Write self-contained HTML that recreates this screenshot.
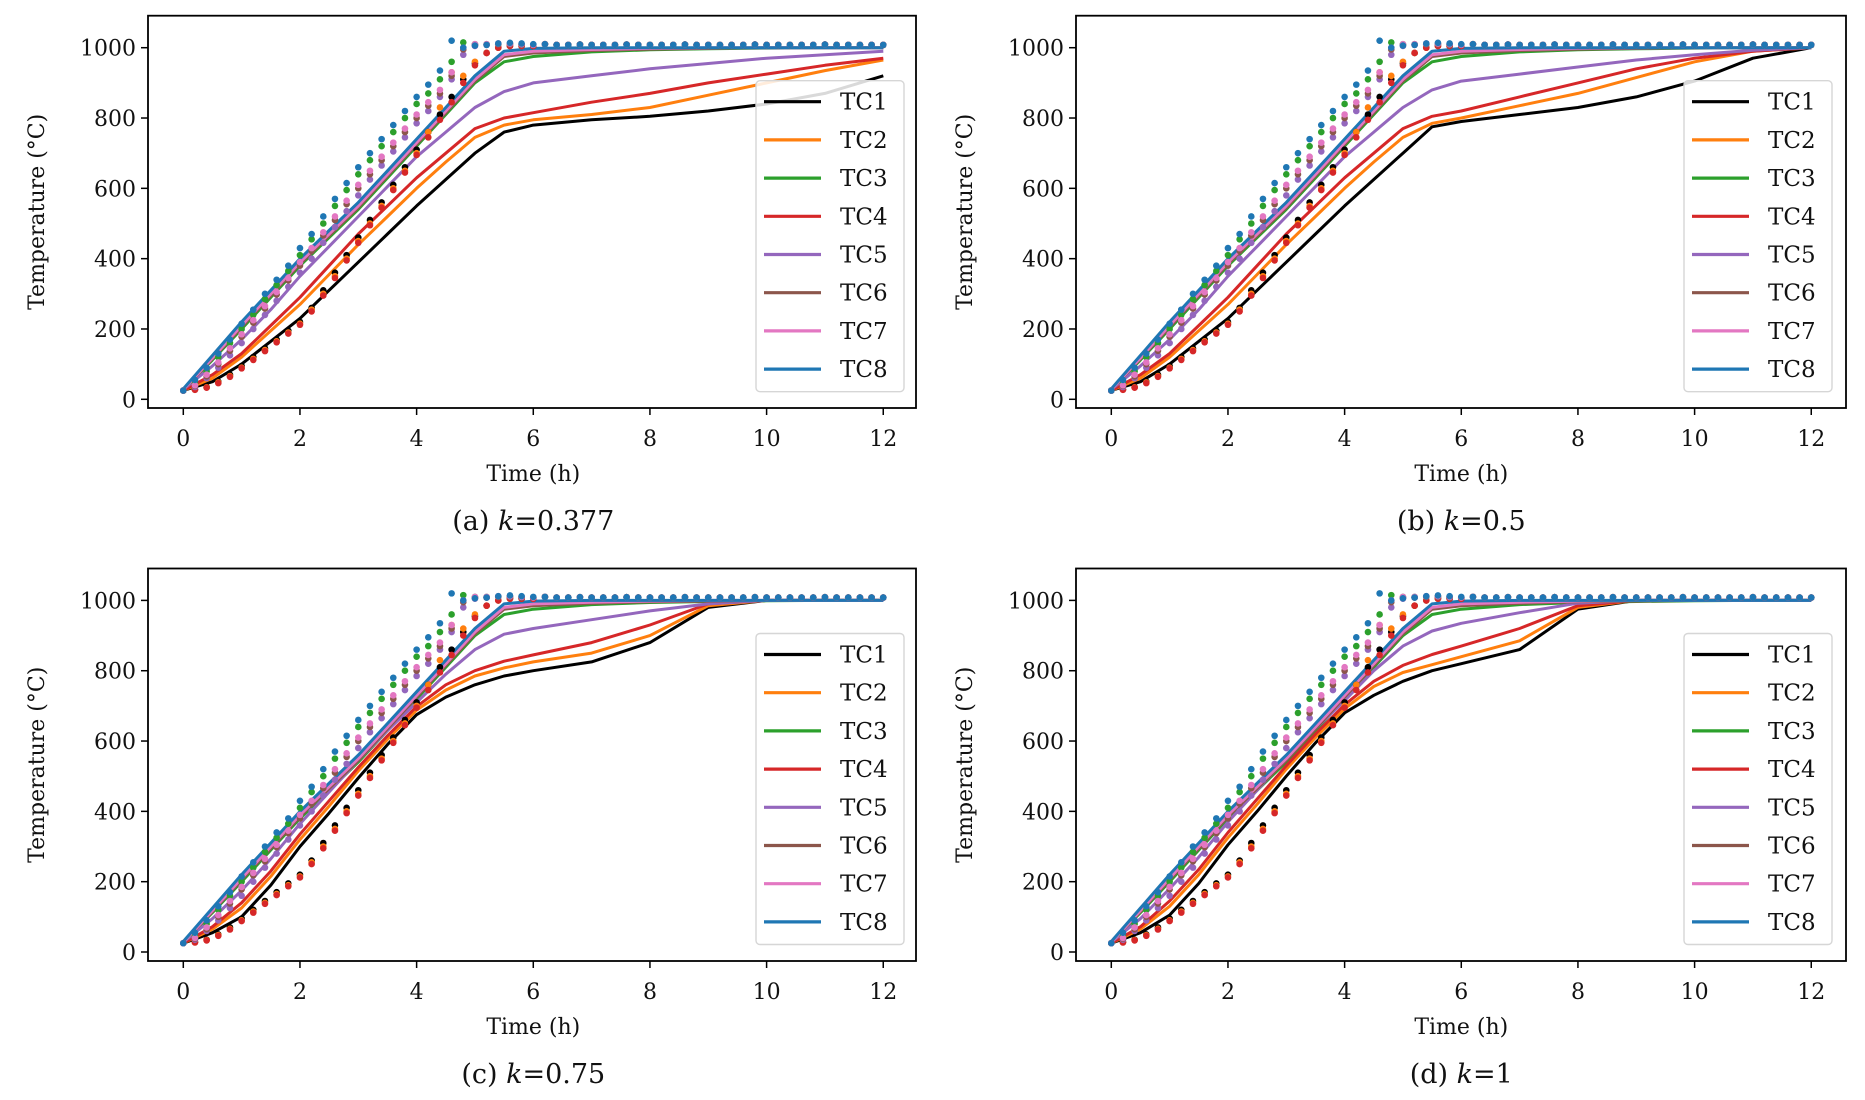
<!DOCTYPE html>
<html><head><meta charset="utf-8">
<style>
html,body{margin:0;padding:0;background:#fff;}
svg{display:block;font-family:"DejaVu Serif","Liberation Serif",serif;}
</style></head>
<body>
<svg id="fig" width="1865" height="1100" viewBox="0 0 1865 1100" xmlns="http://www.w3.org/2000/svg"></svg>
<script>
// ---- data ----
const seriesNames = ["TC1","TC2","TC3","TC4","TC5","TC6","TC7","TC8"];
const seriesColors = ["#000000","#ff7f0e","#2ca02c","#d62728","#9467bd","#8c564b","#e377c2","#1f77b4"];
const panelCaptions = ["(a) ","(b) ","(c) ","(d) "];
const panelK = ["0.377","0.5","0.75","1"];
const xTicks = [0,2,4,6,8,10,12];
const yTicks = [0,200,400,600,800,1000];

const simT = [0,0.5,1,1.5,2,2.5,3,3.5,4,4.5,5,5.5,6,7,8,9,10,11,12];
const simTC8 = [30,125,220,310,400,480,560,650,740,830,920,990,998,1000,1000,1000,1000,1000,1000];
const simTC7 = [28,118,210,300,390,470,550,640,730,820,910,980,990,995,998,1000,1000,1000,1000];
const simTC6 = [28,115,205,295,385,465,545,635,725,815,905,975,985,992,996,998,1000,1000,1000];
const simTC3 = [28,112,200,290,380,460,540,630,720,810,900,960,975,988,994,997,999,1000,1000];

const simA_TC1 = [25,50,100,165,230,310,390,470,550,625,700,760,780,795,805,820,840,870,920];
const simA_TC2 = [25,60,120,195,270,355,440,520,600,675,745,780,795,810,830,865,900,935,965];
const simA_TC4 = [25,70,130,210,290,380,470,550,630,700,770,800,815,845,870,900,925,950,970];
const simA_TC5 = [28,95,170,255,350,435,520,605,690,760,830,875,900,920,940,955,970,980,990];

const simB_TC1 = [25,50,100,165,230,310,390,470,550,625,700,775,790,810,830,860,905,970,1000];
const simB_TC2 = [25,60,120,195,270,355,440,520,600,675,745,785,800,835,870,915,960,990,1000];
const simB_TC4 = [25,70,130,210,290,380,470,550,630,700,770,805,820,860,900,940,970,990,1000];
const simB_TC5 = [28,95,170,255,350,435,520,605,690,760,830,880,905,925,945,965,980,993,1000];

const simC_TC1 = [25,55,100,190,300,395,495,590,675,725,760,785,800,825,880,980,1000,1000,1000];
const simC_TC2 = [25,65,125,215,320,415,515,605,688,745,785,808,825,850,900,985,1000,1000,1000];
const simC_TC4 = [25,72,140,230,335,430,525,615,698,760,800,827,845,880,930,990,1000,1000,1000];
const simC_TC5 = [28,95,175,265,365,455,545,630,710,790,860,904,920,945,970,990,1000,1000,1000];

const simD_TC1 = [25,55,105,195,305,400,500,595,680,730,770,800,820,860,975,1000,1000,1000,1000];
const simD_TC2 = [25,65,130,220,325,420,520,610,692,755,795,817,840,885,980,1000,1000,1000,1000];
const simD_TC4 = [25,72,145,235,340,435,530,620,703,770,815,846,870,920,985,1000,1000,1000,1000];
const simD_TC5 = [28,95,180,270,370,460,550,635,715,800,870,913,935,965,992,1000,1000,1000,1000];

const expT = [0,0.2,0.4,0.6,0.8,1,1.2,1.4,1.6,1.8,2,2.2,2.4,2.6,2.8,3,3.2,3.4,3.6,3.8,4,4.2,4.4,4.6,4.8,5,5.2,5.4,5.6,5.8,6];
const expTC1 = [25,28,35,50,70,95,120,145,170,195,220,260,310,360,410,460,510,560,610,660,710,760,810,860,910,955,985,1000,1005,1005,1005];
const expTC2 = [25,28,34,48,66,90,115,140,165,190,215,255,300,350,400,450,500,550,600,650,700,760,830,930,920,960,985,1000,1005,1005,1005];
const expTC3 = [25,45,80,120,160,200,240,285,325,365,410,455,500,550,595,640,680,720,760,800,840,870,910,960,1015,1010,1010,1010,1012,1010,1008];
const expTC4 = [25,27,33,46,64,88,112,137,162,187,212,250,295,345,395,445,495,545,595,645,695,745,795,845,900,950,985,1000,1005,1005,1005];
const expTC5 = [25,35,60,90,125,160,200,240,280,320,360,400,445,490,535,580,625,665,705,745,785,820,860,910,980,1005,1008,1010,1010,1008,1008];
const expTC6 = [25,38,65,100,138,178,218,258,298,338,380,422,466,510,555,600,640,680,720,760,800,835,870,920,995,1008,1008,1010,1010,1008,1008];
const expTC7 = [25,40,70,105,145,185,225,265,305,345,390,430,475,520,565,610,650,690,730,770,810,845,880,930,1000,1010,1010,1012,1012,1010,1008];
const expTC8 = [25,55,90,130,170,215,255,300,340,380,430,470,520,570,615,660,700,740,780,820,860,895,935,1020,1000,1006,1008,1012,1014,1012,1010];
const expTailT = [6.2,6.4,6.6,6.8,7,7.2,7.4,7.6,7.8,8,8.2,8.4,8.6,8.8,9,9.2,9.4,9.6,9.8,10,10.2,10.4,10.6,10.8,11,11.2,11.4,11.6,11.8,12];
const expTail = [1010,1008,1008,1009,1008,1008,1008,1009,1008,1008,1008,1008,1009,1008,1008,1008,1008,1008,1009,1008,1008,1008,1008,1008,1009,1008,1008,1008,1008,1008];

const panelSim = [
  [simA_TC1,simA_TC2,simTC3,simA_TC4,simA_TC5,simTC6,simTC7,simTC8],
  [simB_TC1,simB_TC2,simTC3,simB_TC4,simB_TC5,simTC6,simTC7,simTC8],
  [simC_TC1,simC_TC2,simTC3,simC_TC4,simC_TC5,simTC6,simTC7,simTC8],
  [simD_TC1,simD_TC2,simTC3,simD_TC4,simD_TC5,simTC6,simTC7,simTC8]
];
const panelExp = [expTC1,expTC2,expTC3,expTC4,expTC5,expTC6,expTC7,expTC8];

// ---- drawing ----
const NS = "http://www.w3.org/2000/svg";
const svg = document.getElementById("fig");
function mk(tag, attrs, parent){
  const e = document.createElementNS(NS, tag);
  for (const k in attrs) e.setAttribute(k, attrs[k]);
  (parent||svg).appendChild(e);
  return e;
}
const layout = [
  {L:148, R:916, T:15.7, B:408, y0:399.3},
  {L:1076, R:1846, T:15.7, B:408, y0:399.3},
  {L:148, R:916, T:568.5, B:961, y0:952},
  {L:1076, R:1846, T:568.5, B:961, y0:952}
];
layout.forEach((p, pi) => {
  const g = mk("g", {});
  
  
  const xs = t => p.L + 35.3 + 58.33 * t;
  const ys = v => p.y0 - 0.3516 * v;
  const cp = mk("clipPath", {id:"clip"+pi}, g);
  mk("rect", {x:p.L, y:p.T, width:p.R-p.L, height:p.B-p.T}, cp);
  const plot = mk("g", {"clip-path":"url(#clip"+pi+")"}, g);
  panelSim[pi].forEach((arr, si) => {
    const pts = simT.map((t,i)=> xs(t).toFixed(1)+","+ys(arr[i]).toFixed(1)).join(" ");
    const pl = mk("polyline", {points:pts, fill:"none", stroke:seriesColors[si], "stroke-width":3, "stroke-linejoin":"round"}, plot);
    
    
  });
  panelExp.forEach((arr, si) => {
    const dg = mk("g", {fill:seriesColors[si]}, plot);
    
    
    expT.forEach((t,i)=> mk("circle", {cx:xs(t), cy:ys(arr[i]), r:3.3}, dg));
    expTailT.forEach((t,i)=> mk("circle", {cx:xs(t), cy:ys(expTail[i]), r:3.3}, dg));
  });
  const fr = mk("rect", {x:p.L, y:p.T, width:p.R-p.L, height:p.B-p.T, fill:"none", stroke:"#000", "stroke-width":1.8}, g);
  
  
  xTicks.forEach(t => {
    mk("line", {x1:xs(t), x2:xs(t), y1:p.B, y2:p.B+7, stroke:"#000", "stroke-width":1.5}, g);
    const tx = mk("text", {x:xs(t), y:p.B+38, "text-anchor":"middle", "font-size":22, fill:"#111"}, g);
    tx.textContent = t;
    
    
  });
  yTicks.forEach(v => {
    mk("line", {x1:p.L-7, x2:p.L, y1:ys(v), y2:ys(v), stroke:"#000", "stroke-width":1.5}, g);
    const tx = mk("text", {x:p.L-12, y:ys(v)+8, "text-anchor":"end", "font-size":22, fill:"#111"}, g);
    tx.textContent = v;
    
    
  });
  const xl = mk("text", {x:xs(6), y:p.B+73, "text-anchor":"middle", "font-size":22, fill:"#111"}, g);
  xl.textContent = "Time (h)";
  
  
  const yc = (p.T+p.B)/2;
  const yl = mk("text", {x:0, y:0, transform:"translate("+(p.L-104)+","+yc+") rotate(-90)", "text-anchor":"middle", "font-size":22, fill:"#111"}, g);
  yl.textContent = "Temperature (°C)";
  
  
  const cap = mk("text", {x:xs(6), y:p.B+122, "text-anchor":"middle", "font-size":27, fill:"#111"}, g);
  
  
  cap.appendChild(document.createTextNode(panelCaptions[pi]));
  const it = mk("tspan", {"font-style":"italic"}, cap); it.textContent = "k";
  cap.appendChild(document.createTextNode("=" + panelK[pi]));
  const lx = p.L + 608, ly = p.T + 65;
  const lg = mk("g", {}, g);
  
  
  mk("rect", {x:lx, y:ly, width:148, height:311, rx:4, fill:"#fff", "fill-opacity":0.85, stroke:"#d6d6d6", "stroke-width":1.4}, lg);
  seriesNames.forEach((n, si) => {
    const ey = ly + 21 + 38.2*si;
    const le = mk("g", {}, lg);
    
    
    mk("line", {x1:lx+8, x2:lx+65, y1:ey, y2:ey, stroke:seriesColors[si], "stroke-width":3.2}, le);
    const t = mk("text", {x:lx+84, y:ey+8, "font-size":23, fill:"#111"}, le);
    t.textContent = n;
  });
});
</script>
</body></html>
